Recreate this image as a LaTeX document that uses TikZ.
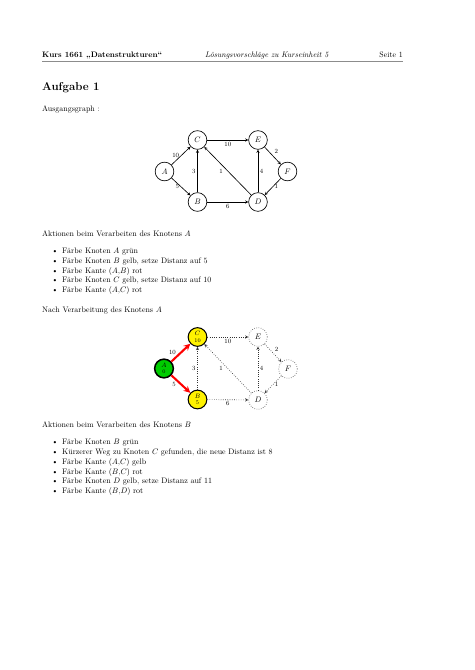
\documentclass[tikz,border=0pt]{standalone}
\usepackage{amsmath,amssymb}
\usetikzlibrary{positioning,arrows}

\begin{document}
\begin{tikzpicture}[
    x=1.2559pt, y=-1.2559pt,
    >=stealth,
    txt/.style={anchor=base west, inner sep=0pt},
    itm/.style={txt, execute at begin node={\llap{\textbullet\hspace{5pt}}}},
    vertex/.style={circle, draw, thick, minimum size=23.5pt, inner sep=0pt},
    link/.style={->, thick},
    wt/.style={font=\footnotesize, text=black, inner sep=2pt},
    done/.style={vertex, fill=green!80!black, line width=1.9pt, font=\footnotesize, align=center},
    seen/.style={vertex, fill=yellow, line width=1.3pt, font=\footnotesize, align=center},
    todo/.style={vertex, thick, dotted, draw=black!70},
    idle/.style={->, thick, dotted, draw=black!80},
    redlink/.style={->, red, line width=2.6pt},
  ]

  \fill[white] (0,0) rectangle (474,670);
  \useasboundingbox (0,0) rectangle (474,670);

  % Kopfzeile
  \node[txt, font=\bfseries] (kurs) at (42,57.5) {Kurs 1661 „Datenstrukturen“};
  \node[txt, font=\itshape] (titel) at (205,57.5) {Lösungsvorschläge zu Kurseinheit 5};
  \node[txt, anchor=base east] (seite) at (403,57.5) {Seite 1};
  \draw[black!45, line width=1.2pt] (42,61.7) -- (403,61.7);

  \node[txt, font=\Large\bfseries] (aufgabe) at (42,90.5) {Aufgabe 1};
  \node[txt] (ausgang) at (42,111.5) {Ausgangsgraph :};

  % Ausgangsgraph
  \node[vertex] (A) at (164.5,171.5) {$A$};
  \node[vertex] (C) at (197.5,140) {$C$};
  \node[vertex] (B) at (197.5,202) {$B$};
  \node[vertex] (E) at (258,140) {$E$};
  \node[vertex] (D) at (258,202) {$D$};
  \node[vertex] (F) at (287.5,171.5) {$F$};

  \draw[link] (A) -- node[wt, left] {10} (C);
  \draw[link] (A) -- node[wt, left] {5} (B);
  \draw[link] (B) -- node[wt, left] {3} (C);
  \draw[link] (C) -- node[wt, below] {10} (E);
  \draw[link] (B) -- node[wt, below] {6} (D);
  \draw[link] (D) -- node[wt, left=4pt] {1} (C);
  \draw[link] (D) -- node[wt, right] {4} (E);
  \draw[link] (E) -- node[wt, above right] {2} (F);
  \draw[link] (F) -- node[wt, right] {1} (D);

  % Aktionen Knoten A
  \node[txt] (aktA) at (42,236) {Aktionen beim Verarbeiten des Knotens $A$};
  \foreach \t [count=\i from 0] in {{Färbe Knoten $A$ grün},
      {Färbe Knoten $B$ gelb, setze Distanz auf 5},
      {Färbe Kante ($A$,$B$) rot},
      {Färbe Knoten $C$ gelb, setze Distanz auf 10},
      {Färbe Kante ($A$,$C$) rot}}
    \node[itm] (aktA\i) at (62,{253.7+9.7*\i}) {\t};

  \node[txt] (nachA) at (42,312.7) {Nach Verarbeitung des Knotens $A$};

  % Graph nach Knoten A
  \node[done] (A2) at (164,368.5) {$A$\\[-1.5pt]{\scriptsize 0}};
  \node[seen] (C2) at (197.5,337) {$C$\\[-1.5pt]{\scriptsize 10}};
  \node[seen] (B2) at (197.5,399.5) {$B$\\[-1.5pt]{\scriptsize 5}};
  \node[todo] (E2) at (258,337) {$E$};
  \node[todo] (D2) at (258,400) {$D$};
  \node[todo] (F2) at (288,369) {$F$};

  \draw[redlink] (A2) -- node[wt, left=3pt] {10} (C2);
  \draw[redlink] (A2) -- node[wt, left=3pt] {5} (B2);
  \draw[idle] (B2) -- node[wt, left] {3} (C2);
  \draw[idle] (C2) -- node[wt, below] {10} (E2);
  \draw[idle] (B2) -- node[wt, below] {6} (D2);
  \draw[idle] (D2) -- node[wt, left=4pt] {1} (C2);
  \draw[idle] (D2) -- node[wt, right] {4} (E2);
  \draw[idle] (E2) -- node[wt, above right] {2} (F2);
  \draw[idle] (F2) -- node[wt, right] {1} (D2);

  % Aktionen Knoten B
  \node[txt] (aktB) at (42,427) {Aktionen beim Verarbeiten des Knotens $B$};
  \foreach \t [count=\i from 0] in {{Färbe Knoten $B$ grün},
      {Kürzerer Weg zu Knoten $C$ gefunden, die neue Distanz ist 8},
      {Färbe Kante ($A$,$C$) gelb},
      {Färbe Kante ($B$,$C$) rot},
      {Färbe Knoten $D$ gelb, setze Distanz auf 11},
      {Färbe Kante ($B$,$D$) rot}}
    \node[itm] (aktB\i) at (62,{444.3+9.9*\i}) {\t};

\end{tikzpicture}
\end{document}
